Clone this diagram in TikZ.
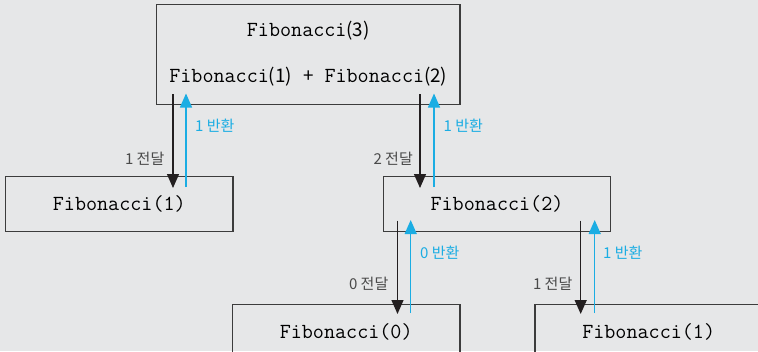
\documentclass[tikz,border=0pt]{standalone}
\usepackage{fontspec}
\newfontfamily\kr{Noto Sans CJK KR}
\usetikzlibrary{arrows.meta}
\definecolor{bg}{HTML}{E6E7E8}
\definecolor{frame}{HTML}{3C3C3C}
\definecolor{ink}{HTML}{231F20}
\definecolor{sky}{HTML}{1BADE3}
\definecolor{lbl}{HTML}{4A4A4A}
\tikzset{
  fbox/.style={draw=frame, line width=1.5pt, minimum height=55pt, inner sep=0pt,
    font=\fontsize{21.5}{24}\selectfont\ttfamily},
  pass/.style={draw=ink, line width=1.3pt, -{Triangle[width=12pt,length=14pt]}},
  ret/.style={draw=sky, line width=1.3pt, -{Triangle[width=12pt,length=14pt]}},
  passlbl/.style={anchor=east, inner sep=0pt, text=lbl, font=\fontsize{15}{17}\selectfont\kr},
  retlbl/.style={anchor=west, inner sep=0pt, text=sky, font=\fontsize{15}{17}\selectfont\kr},
  toptxt/.style={inner sep=0pt, font=\fontsize{21.5}{24}\selectfont}
}
\newcommand{\fmono}[1]{{\ttfamily #1}}
\newcommand{\fargs}[1]{{\kr\fontsize{18.8}{22}\selectfont #1}}
\begin{document}
\begin{tikzpicture}[x=1pt,y=-1pt]
\fill[bg] (0,0) rectangle (758,351);
\useasboundingbox (0,0) rectangle (758,351);
\clip (0,0) rectangle (758,351);
% boxes
\node[fbox, minimum width=303.3pt, minimum height=100pt] (f3) at (308.3,54.3) {};
\node[toptxt] (t1) at (308.3,31) {\fmono{Fibonacci}\fargs{(3)}};
\node[toptxt] (t2) at (308.3,77) {\fmono{Fibonacci}\fargs{(1)\hspace{11pt}+\hspace{11pt}}\fmono{Fibonacci}\fargs{(2)}};
\node[fbox, minimum width=227.3pt] (f1a) at (119.3,204.2) {Fibonacci(1)};
\node[fbox, minimum width=227.4pt] (f2) at (497,204.2) {Fibonacci(2)};
\node[fbox, minimum width=227.7pt] (f0) at (346.2,332) {Fibonacci(0)};
\node[fbox, minimum width=227.4pt] (f1b) at (648.7,332) {Fibonacci(1)};
% arrow end points
\coordinate (p1s) at (173,94);   \coordinate (p1e) at (173,188);
\coordinate (r1s) at (186,187);  \coordinate (r1e) at (186,93.5);
\coordinate (p2s) at (420,94);   \coordinate (p2e) at (420,188);
\coordinate (r2s) at (434,187);  \coordinate (r2e) at (434,93.5);
\coordinate (p3s) at (397.5,220.5); \coordinate (p3e) at (397.5,314);
\coordinate (r3s) at (410.7,313);   \coordinate (r3e) at (410.7,220);
\coordinate (p4s) at (580.7,220.5); \coordinate (p4e) at (580.7,314);
\coordinate (r4s) at (594.7,313);   \coordinate (r4e) at (594.7,220);
% connectors
\draw[pass] (p1s) -- (p1e);
\draw[ret] (r1s) -- (r1e);
\draw[pass] (p2s) -- (p2e);
\draw[ret] (r2s) -- (r2e);
\draw[pass] (p3s) -- (p3e);
\draw[ret] (r3s) -- (r3e);
\draw[pass] (p4s) -- (p4e);
\draw[ret] (r4s) -- (r4e);
% labels
\node[passlbl] (l1) at (164.5,158.5) {1 전달};
\node[retlbl] (m1) at (195,125.5) {1 반환};
\node[passlbl] (l2) at (413,158.5) {2 전달};
\node[retlbl] (m2) at (443.5,125.5) {1 반환};
\node[passlbl] (l3) at (388.5,284) {0 전달};
\node[retlbl] (m3) at (420,252.5) {0 반환};
\node[passlbl] (l4) at (572.5,284) {1 전달};
\node[retlbl] (m4) at (603,252.5) {1 반환};
\end{tikzpicture}
\end{document}
